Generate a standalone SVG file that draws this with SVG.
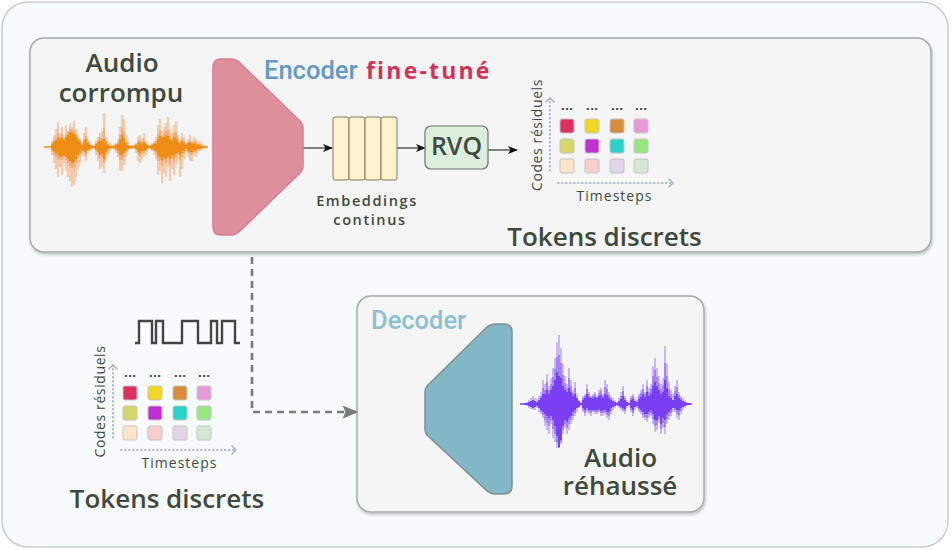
<svg xmlns="http://www.w3.org/2000/svg" width="952" height="550" viewBox="0 0 952 550">
  <defs>
    <filter id="shadow" x="-5%" y="-5%" width="110%" height="115%">
      <feDropShadow dx="1" dy="2" stdDeviation="1.5" flood-color="#000" flood-opacity="0.22"/>
    </filter>
    <marker id="arrowBlack" viewBox="0 0 10 8" refX="9" refY="4" markerWidth="10" markerHeight="8" markerUnits="userSpaceOnUse" orient="auto">
      <path d="M0 0 L10 4 L0 8 L2.5 4 Z" fill="#111"/>
    </marker>
    <marker id="arrowGray" viewBox="0 0 12 10" refX="11" refY="5" markerWidth="16" markerHeight="13" markerUnits="userSpaceOnUse" orient="auto">
      <path d="M0 0 L12 5 L0 10 L2 5 Z" fill="#7a7a7a"/>
    </marker>
    <g id="tokenGrid">
      <!-- dotted axes -->
      <path class="axis" d="M0 -10 V65 M8 75 H123"/>
      <polyline class="axisHead" points="-4,-6 0,-10 4,-6"/>
      <polyline class="axisHead" points="119,71 123,75 119,79"/>
      <!-- ellipsis above each column -->
      <text class="dots" x="17" y="2">...</text>
      <text class="dots" x="42" y="2">...</text>
      <text class="dots" x="67" y="2">...</text>
      <text class="dots" x="91" y="2">...</text>
      <!-- residual code cells -->
      <rect class="cell" x="10" y="11" fill="#dc2f5e"/>
      <rect class="cell" x="35" y="11" fill="#f0d820"/>
      <rect class="cell" x="60" y="11" fill="#d98b3c"/>
      <rect class="cell" x="84" y="11" fill="#e89ad8"/>
      <rect class="cell" x="10" y="31" fill="#d5d76b"/>
      <rect class="cell" x="35" y="31" fill="#bf2fd4"/>
      <rect class="cell" x="60" y="31" fill="#2ad3c8"/>
      <rect class="cell" x="84" y="31" fill="#96e87e"/>
      <rect class="cell" x="10" y="51" fill="#ffe6cc"/>
      <rect class="cell" x="35" y="51" fill="#f8cecc"/>
      <rect class="cell" x="60" y="51" fill="#e1d5e7"/>
      <rect class="cell" x="84" y="51" fill="#d5e8d4"/>
    </g>
  </defs>
  <style>
    .label { font-family: "Open Sans", "DejaVu Sans", sans-serif; font-weight: 600; font-size: 26px; fill: #3e4a3e; text-anchor: middle; }
    .small { font-family: "Open Sans", "DejaVu Sans", sans-serif; font-weight: 600; font-size: 14.5px; letter-spacing: 1.6px; fill: #3e4a3e; text-anchor: middle; }
    .axisLabel { font-family: "Open Sans", "DejaVu Sans", sans-serif; font-weight: 500; font-size: 14px; letter-spacing: 0.6px; fill: #3e4a3e; text-anchor: middle; }
    .steps { font-family: "Open Sans", "DejaVu Sans", sans-serif; font-weight: 500; font-size: 14px; letter-spacing: 1px; fill: #3e4a3e; text-anchor: middle; }
    .title { font-family: Roboto, "Liberation Sans", sans-serif; font-weight: 500; font-size: 25.5px; }
    .panel { fill: #f5f5f5; stroke: #a9a9a9; stroke-width: 1.5; filter: url(#shadow); }
    .axis { fill: none; stroke: #aab5c6; stroke-width: 2; stroke-dasharray: 0.5 3.5; stroke-linecap: round; }
    .axisHead { fill: none; stroke: #aab5c6; stroke-width: 1.6; stroke-linecap: round; stroke-linejoin: round; }
    .dots { font-family: "DejaVu Sans", sans-serif; font-weight: bold; font-size: 11px; fill: #3e4a3e; text-anchor: middle; }
    .cell { width: 14px; height: 14px; rx: 2px; stroke: #c4c4c4; stroke-width: 1; }
    .emb { fill: #fff2cc; stroke: #7f7a6a; stroke-width: 1; }
    .flow { fill: none; stroke: #333; stroke-width: 1.2; marker-end: url(#arrowBlack); }
    .dashed { fill: none; stroke: #7a7a7a; stroke-width: 2.6; stroke-dasharray: 7 5; marker-end: url(#arrowGray); }
  </style>

  <!-- outer frame -->
  <rect x="2" y="2" width="946" height="545" rx="26" fill="#f8fbfb" stroke="#cdcdcd" stroke-width="1.5"/>

  <!-- encoder panel -->
  <g id="encoder-panel">
    <rect class="panel" x="30" y="38" width="901" height="214" rx="14"/>
  </g>

  <!-- decoder panel -->
  <g id="decoder-panel">
    <rect class="panel" x="357" y="296" width="347" height="216" rx="14"/>
  </g>

  <!-- connectors -->
  <g id="connectors">
    <path class="flow" d="M303 148 H332"/>
    <path class="flow" d="M397 148 H425"/>
    <path class="flow" d="M488 150 H517"/>
    <path class="dashed" d="M252 257 V412 H357"/>
  </g>

  <!-- corrupted input audio -->
  <g id="audio-in">
    <text class="label" x="122" y="72">Audio</text>
    <text class="label" x="121" y="102">corrompu</text>
    <path d="M44 147 H208" stroke="#ef8c2a" stroke-width="1.3"/>
    <path stroke="#f6c19c" stroke-opacity="0.85" stroke-width="2" d="M52 141V155M54 135V163M56 129V169M58 122V177M60 133V167M62 127V175M64 137V163M66 125V171M68 131V177M70 123V181M72 127V187M74 121V185M76 129V177M78 135V169M80 139V163M82 143V155M84 133V157M86 127V161M88 139V153M90 143V151M92 144V150M94 145V149M96 141V155M98 137V161M100 133V169M102 131V167M104 113V173M106 137V161M108 141V155M110 143V151M112 145V149M114 144V150M116 143V153M118 139V157M120 127V171M122 115V171M124 119V165M126 135V157M128 142V151M130 145V149M132 145V149M134 144V149M136 143V153M138 137V161M140 135V163M142 139V159M144 133V157M146 141V155M148 144V150M150 145V149M152 143V151M154 141V155M156 137V159M158 125V175M160 119V171M162 131V183M164 127V173M166 123V177M168 117V167M170 129V181M172 133V169M174 125V175M176 121V165M178 135V161M180 139V177M182 133V169M184 137V159M186 143V153M188 139V157M190 135V161M192 141V161M194 137V155M196 139V157M198 142V153M200 141V151M202 144V150M204 145V149"/>
    <path stroke="#f0a45c" stroke-opacity="0.7" stroke-width="2" d="M52 143V151M54 140V155M56 137V157M58 134V160M60 137V159M62 134V160M64 139V157M66 134V160M68 132V163M70 129V166M72 130V168M74 130V167M76 134V163M78 138V158M80 141V155M82 144V151M84 139V152M86 136V155M88 142V151M90 145V149M96 143V151M98 140V154M100 137V158M102 138V157M104 128V163M106 141V154M108 144V150M116 144V150M118 142V153M120 135V160M122 129V160M124 132V157M126 141V152M136 144V150M138 141V154M140 140V156M142 142V153M144 139V153M146 143V151M152 144V150M154 143V151M156 141V153M158 134V161M160 131V161M162 136V166M164 134V161M166 131V163M168 130V158M170 136V164M172 139V159M174 133V162M176 132V157M178 140V154M180 142V160M182 139V157M184 141V153M188 142V152M190 140V154M192 143V155M194 141V152M196 142V152M198 144V150M200 144V149"/>
    <path stroke="#ef8c14" stroke-width="2" d="M52 144V150M54 142V152M56 140V153M58 138V155M60 139V157M62 137V156M64 140V155M66 137V157M68 135V159M70 132V161M72 133V163M74 134V162M76 137V159M78 140V155M80 142V153M82 145V150M84 141V151M86 139V153M88 143V150M90 145V149M92 146V148M94 146V148M96 144V150M98 142V152M100 140V155M102 141V154M104 139V159M106 143V152M108 145V149M110 146V148M112 146V148M114 146V148M116 145V149M118 144V151M120 139V155M122 135V155M124 138V153M126 143V151M128 145V149M130 146V148M132 146V148M134 146V148M136 145V149M138 143V152M140 142V153M142 144V151M144 142V151M146 144V150M148 146V148M150 146V148M152 145V149M154 144V150M156 143V151M158 139V156M160 136V157M162 138V160M164 137V157M166 135V159M168 136V156M170 139V159M172 141V155M174 137V157M176 138V154M178 142V152M180 143V155M182 141V153M184 143V151M186 145V149M188 143V151M190 142V152M192 144V152M194 143V150M196 144V150M198 145V149M200 145V149M202 146V148M204 146V148"/>
  </g>

  <!-- encoder block -->
  <g id="encoder">
    <path d="M221 59 H231 Q236 59 240 63 L300 121 Q303 124 303 129 V166 Q303 170 300 173 L240 231 Q236 235 231 235 H221 Q213 235 213 227 V67 Q213 59 221 59 Z" fill="#de8f9c" stroke="#d4808f" stroke-width="1.5"/>
    <text class="title" x="264" y="79" fill="#6399c4">Encoder</text>
    <text x="366" y="79" font-family="'Open Sans', 'DejaVu Sans', sans-serif" font-weight="700" font-size="23" letter-spacing="2.2" fill="#d6305a">fine-tuné</text>
  </g>

  <!-- continuous embeddings -->
  <g id="embeddings">
    <rect class="emb" x="333" y="117" width="16" height="63" rx="2"/>
    <rect class="emb" x="349" y="117" width="16" height="63" rx="2"/>
    <rect class="emb" x="365" y="117" width="16" height="63" rx="2"/>
    <rect class="emb" x="381" y="117" width="16" height="63" rx="2"/>
    <text class="small" x="367" y="206">Embeddings</text>
    <text class="small" x="370" y="225">continus</text>
  </g>

  <!-- residual vector quantizer -->
  <g id="rvq">
    <rect x="425" y="126" width="63" height="43" rx="6" fill="#dcefdc" stroke="#6f6f6f" stroke-width="1.2"/>
    <text x="456.5" y="155" font-family="'Open Sans', 'DejaVu Sans', sans-serif" font-weight="600" font-size="25" fill="#3e4a3e" text-anchor="middle">RVQ</text>
  </g>

  <!-- discrete tokens (encoder output) -->
  <g id="tokens-top">
    <use href="#tokenGrid" x="550" y="108"/>
    <text class="axisLabel" transform="translate(542 135) rotate(-90)">Codes résiduels</text>
    <text class="steps" x="614.5" y="201">Timesteps</text>
    <text class="label" x="604.5" y="246">Tokens discrets</text>
  </g>

  <!-- discrete tokens (decoder input) -->
  <g id="tokens-bottom">
    <path d="M135 343 H139 V321 H152 V343 H156 V321 H163 V343 H182 V321 H198 V343 H211 V321 H217 V343 H222 V321 H235 V343 H240" fill="none" stroke="#454545" stroke-width="2.4"/>
    <use href="#tokenGrid" x="113" y="375"/>
    <text class="axisLabel" transform="translate(105 401.5) rotate(-90)">Codes résiduels</text>
    <text class="steps" x="179.5" y="468">Timesteps</text>
    <text class="label" x="167" y="508">Tokens discrets</text>
  </g>

  <!-- decoder block -->
  <g id="decoder">
    <path d="M496 324 H504 Q512 324 512 332 V486 Q512 494 504 494 H496 Q490 494 486 490 L428 436 Q425 433 425 428 V392 Q425 388 428 385 L486 328 Q490 324 496 324 Z" fill="#82b7c6" stroke="#7e8e94" stroke-width="1.5"/>
    <text class="title" x="371" y="329" fill="#8dc1d0">Decoder</text>
  </g>

  <!-- enhanced output audio -->
  <g id="audio-out">
    <path d="M520 404 H692" stroke="#7b3ff2" stroke-width="1.5"/>
    <path stroke="#c4b1f7" stroke-opacity="0.9" stroke-width="2" d="M525 403V405M527 402V406M529 400V408M531 398V409M533 396V410M535 398V410M537 399V408M539 396V412M541 392V414M543 380V418M545 384V426M547 374V430M549 386V434M551 378V424M553 368V438M555 358V442M557 342V448M559 335V448M561 348V444M563 364V434M565 376V428M567 384V434M569 368V430M571 380V424M573 390V420M575 382V416M577 394V412M579 400V408M581 402V406M583 396V412M585 394V416M587 384V412M589 392V414M591 396V416M593 394V412M595 392V414M597 396V414M599 390V412M601 388V416M603 394V416M605 380V414M607 384V418M609 392V420M611 396V414M613 398V410M615 400V408M617 402V406M619 398V408M621 392V410M623 386V412M625 396V414M627 400V408M629 402V406M631 396V412M633 394V416M635 398V410M637 400V408M639 394V412M641 390V414M643 384V418M645 392V420M647 380V422M649 388V418M651 384V416M653 366V424M655 358V432M657 368V430M659 376V422M661 384V434M663 378V428M665 346V434M667 364V424M669 382V420M671 390V416M673 394V412M675 386V412M677 380V418M679 392V420M681 396V414M683 398V410M685 400V408M687 402V406M689 403V405"/>
    <path stroke="#9a72f4" stroke-opacity="0.75" stroke-width="2" d="M541 396V412M543 388V415M545 390V420M547 382V423M549 390V426M551 384V420M553 377V429M555 369V434M557 357V442M559 355V448M561 363V442M563 375V430M565 383V424M567 388V428M569 378V424M571 386V420M573 393V416M575 388V413M583 398V410M585 396V413M587 389V410M589 394V412M591 397V413M593 396V411M595 394V412M597 397V412M599 393V411M601 391V413M603 396V413M605 387V412M607 389V415M609 395V416M611 398V411M621 396V408M623 391V410M625 398V411M631 398V410M633 396V413M639 396V410M641 393V412M643 389V415M645 394V417M647 386V418M649 392V415M651 389V413M653 376V419M655 370V426M657 377V425M659 383V419M661 389V429M663 385V423M665 363V427M667 376V419M669 389V416M671 394V413M675 391V410M677 387V414M679 395V415M681 398V411"/>
    <path stroke="#7b3ff2" stroke-width="2" d="M525 403V405M527 403V405M529 402V406M531 401V407M533 400V408M535 401V407M537 402V406M539 400V408M541 398V410M543 394V412M545 394V414M547 390V416M549 394V418M551 390V416M553 386V420M555 380V426M557 372V436M559 376V447M561 378V440M563 386V426M565 390V420M567 392V422M569 388V418M571 392V416M573 396V412M575 394V410M577 398V408M579 401V407M581 403V405M583 400V408M585 398V410M587 394V408M589 397V410M591 398V410M593 398V410M595 397V410M597 398V410M599 396V409M601 395V411M603 398V410M605 394V410M607 395V412M609 398V412M611 400V408M613 401V407M615 402V406M617 403V405M619 401V406M621 399V407M623 396V408M625 400V409M627 402V406M629 403V405M631 400V408M633 399V410M635 401V407M637 402V406M639 399V408M641 397V410M643 394V412M645 397V414M647 392V414M649 396V412M651 394V410M653 386V414M655 382V420M657 386V420M659 390V416M661 394V424M663 392V418M665 380V420M667 388V414M669 396V412M671 398V410M673 400V408M675 396V408M677 394V410M679 398V410M681 400V408M683 401V407M685 402V406M687 403V405M689 403V405"/>
    <text class="label" x="620.5" y="467">Audio</text>
    <text class="label" x="620" y="495">réhaussé</text>
  </g>
</svg>
